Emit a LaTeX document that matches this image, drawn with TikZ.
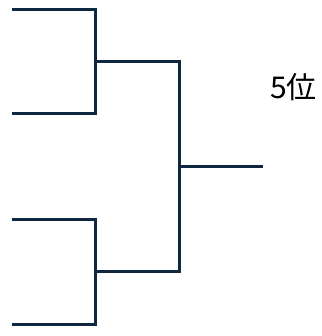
\documentclass[tikz,border=0pt]{standalone}
\usepackage{fontspec}
\newfontfamily\jpfont{Noto Sans CJK JP}
\usepackage{tikz}
\usetikzlibrary{calc}
\definecolor{navy}{HTML}{0E2841}

\begin{document}
\begin{tikzpicture}[x=1bp,y=-1bp]
    \useasboundingbox (0,0) rectangle (322,336);

    % stile linee
    \tikzset{ramo/.style={draw=navy,line width=3bp}}

    % primo turno, in alto
    \draw[ramo] (12,9.5) -- (95.5,9.5) -- (95.5,113.5) -- (12,113.5);
    \coordinate (A) at (95.5,61.5);

    % primo turno, in basso
    \draw[ramo] (12,219.5) -- (95.5,219.5) -- (95.5,324.5) -- (12,324.5);
    \coordinate (B) at (95.5,271);

    % secondo turno
    \draw[ramo] (A) -- (179,61.5) -- (179,271) -- (B);
    \coordinate (C) at (179,166);

    % finale
    \draw[ramo] (C) -- (263,166);

    % posto
    \node[text=black,inner sep=0pt] (posto) at (293.5,87) {\jpfont\fontsize{30bp}{36bp}\selectfont 5位};
\end{tikzpicture}
\end{document}
